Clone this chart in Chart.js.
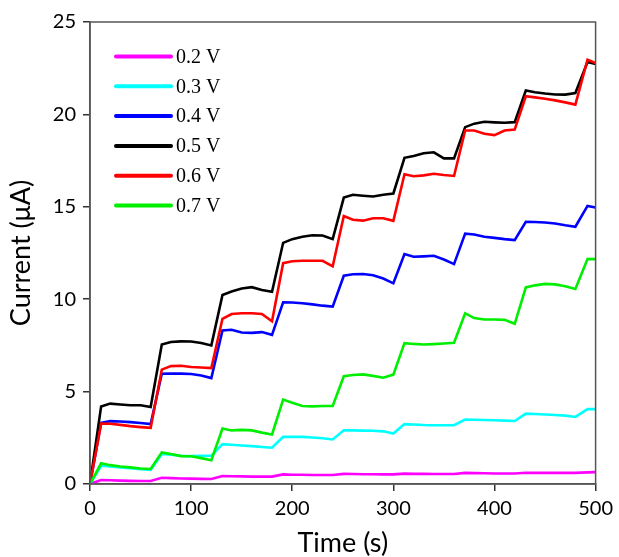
<!DOCTYPE html>
<html>
<head>
<meta charset="utf-8">
<script src="https://cdn.jsdelivr.net/npm/chart.js@4"></script>
<style>
  html, body { margin: 0; padding: 0; background: #fff; }
  #wrap { width: 619px; height: 557px; }
</style>
</head>
<body>
<div id="wrap"><canvas id="chart" width="619" height="557"></canvas></div>
<script>
// time points (s)
const times = [0, 11, 20, 30, 40, 50, 60, 71, 80, 90, 100, 110, 120, 131, 140, 150, 160, 170, 180,
  191, 200, 210, 220, 230, 240, 251, 260, 270, 280, 290, 300, 311, 320, 330, 340, 350, 360,
  371, 380, 390, 400, 410, 420, 431, 440, 450, 460, 470, 480, 492, 500];

// current (uA) per applied voltage
const v02 = [0, 0.22, 0.2, 0.18, 0.17, 0.16, 0.16, 0.34, 0.32, 0.3, 0.29, 0.28, 0.27, 0.43, 0.42, 0.41, 0.4, 0.4, 0.4,
  0.52, 0.5, 0.5, 0.49, 0.49, 0.49, 0.55, 0.54, 0.53, 0.53, 0.52, 0.52, 0.56, 0.55, 0.55, 0.54, 0.54, 0.54,
  0.6, 0.59, 0.58, 0.57, 0.57, 0.57, 0.61, 0.6, 0.6, 0.6, 0.6, 0.6, 0.63, 0.64];
const v03 = [0, 0.99, 0.95, 0.9, 0.85, 0.8, 0.76, 1.62, 1.58, 1.52, 1.51, 1.52, 1.53, 2.16, 2.12, 2.08, 2.05, 2.0, 1.96,
  2.55, 2.56, 2.55, 2.52, 2.48, 2.41, 2.91, 2.9, 2.89, 2.88, 2.85, 2.73, 3.24, 3.22, 3.19, 3.18, 3.18, 3.18,
  3.49, 3.48, 3.46, 3.45, 3.43, 3.41, 3.81, 3.79, 3.76, 3.73, 3.7, 3.63, 4.05, 4.05];
const v04 = [0, 3.31, 3.4, 3.38, 3.35, 3.3, 3.24, 5.97, 5.98, 5.97, 5.95, 5.87, 5.73, 8.31, 8.35, 8.2, 8.18, 8.22, 8.07,
  9.83, 9.82, 9.78, 9.72, 9.65, 9.6, 11.27, 11.35, 11.36, 11.3, 11.12, 10.86, 12.44, 12.3, 12.32, 12.35, 12.15, 11.9,
  13.55, 13.5, 13.38, 13.32, 13.25, 13.2, 14.19, 14.18, 14.15, 14.1, 14.0, 13.92, 15.05, 14.96];
const v05 = [0, 4.2, 4.35, 4.3, 4.26, 4.26, 4.17, 7.55, 7.68, 7.72, 7.71, 7.63, 7.5, 10.23, 10.42, 10.58, 10.65, 10.5, 10.4,
  13.05, 13.25, 13.38, 13.46, 13.45, 13.25, 15.5, 15.65, 15.6, 15.56, 15.65, 15.72, 17.65, 17.75, 17.9, 17.95, 17.62, 17.62,
  19.31, 19.5, 19.6, 19.57, 19.55, 19.58, 21.29, 21.2, 21.13, 21.08, 21.07, 21.16, 22.83, 22.73];
const v06 = [0, 3.27, 3.26, 3.2, 3.13, 3.08, 3.04, 6.19, 6.38, 6.4, 6.33, 6.3, 6.27, 8.94, 9.2, 9.24, 9.24, 9.2, 8.81,
  11.95, 12.05, 12.08, 12.08, 12.08, 11.78, 14.5, 14.3, 14.25, 14.38, 14.38, 14.24, 16.76, 16.65, 16.7, 16.79, 16.72, 16.67,
  19.13, 19.13, 18.95, 18.88, 19.13, 19.18, 20.98, 20.92, 20.85, 20.76, 20.65, 20.53, 22.96, 22.78];
const v07 = [0, 1.12, 1.02, 0.95, 0.9, 0.84, 0.81, 1.71, 1.62, 1.51, 1.5, 1.4, 1.29, 3.0, 2.9, 2.93, 2.9, 2.78, 2.68,
  4.57, 4.4, 4.22, 4.2, 4.22, 4.22, 5.83, 5.9, 5.93, 5.85, 5.75, 5.92, 7.62, 7.58, 7.55, 7.57, 7.6, 7.64,
  9.24, 8.98, 8.9, 8.9, 8.88, 8.67, 10.64, 10.75, 10.83, 10.8, 10.7, 10.55, 12.17, 12.17];

const seriesLabels = ["0.2 V", "0.3 V", "0.4 V", "0.5 V", "0.6 V", "0.7 V"];
const xTicks = [0, 100, 200, 300, 400, 500];
const yTicks = [0, 5, 10, 15, 20, 25];

const sansFont = "Lato, 'Open Sans', sans-serif";

function pts(vals) {
  return times.map((t, i) => ({ x: t, y: vals[i] }));
}

function line(label, vals, color, order) {
  return {
    label: label,
    data: pts(vals),
    borderColor: color,
    backgroundColor: color,
    borderWidth: 2.6,
    pointRadius: 0,
    tension: 0,
    order: order
  };
}

// frame round the plot + legend inside it
const framePlugin = {
  id: "frame",
  afterDatasetsDraw(chart) {
    const ctx = chart.ctx;
    const a = chart.chartArea;
    ctx.save();
    ctx.strokeStyle = "#555";
    ctx.lineWidth = 1.5;
    ctx.strokeRect(a.left, a.top, a.right - a.left, a.bottom - a.top);

    // legend
    const sets = chart.data.datasets;
    ctx.font = "20px 'Liberation Serif', 'Times New Roman', serif";
    ctx.textBaseline = "middle";
    ctx.textAlign = "left";
    sets.forEach((ds, i) => {
      const y = 56.5 + i * 29.8;
      ctx.strokeStyle = ds.borderColor;
      ctx.lineWidth = 4;
      ctx.lineCap = "round";
      ctx.beginPath();
      ctx.moveTo(116, y);
      ctx.lineTo(171, y);
      ctx.stroke();
      ctx.fillStyle = "#000";
      ctx.fillText(ds.label, 176, y + 1);
    });
    ctx.restore();
  }
};

new Chart(document.getElementById("chart"), {
  type: "line",
  data: {
    datasets: [
      line(seriesLabels[0], v02, "#ff00ff", 5),
      line(seriesLabels[1], v03, "#00ffff", 4),
      line(seriesLabels[2], v04, "#0000ff", 3),
      line(seriesLabels[3], v05, "#000000", 2),
      line(seriesLabels[4], v06, "#ff0000", 1),
      line(seriesLabels[5], v07, "#00ee00", 0)
    ]
  },
  options: {
    responsive: false,
    animation: false,
    layout: { padding: { top: 22, right: 19, left: 0, bottom: 0 } },
    plugins: {
      legend: { display: false },
      tooltip: { enabled: false }
    },
    scales: {
      x: {
        type: "linear",
        min: 0,
        max: 500,
        afterBuildTicks: (s) => { s.ticks = xTicks.map(v => ({ value: v })); },
        afterFit: (s) => { s.height = 73; },
        grid: { drawOnChartArea: false, tickLength: 7, color: "#333", lineWidth: 1.5 },
        border: { color: "#555", width: 1.5 },
        ticks: { color: "#000", padding: 6, font: { family: sansFont, size: 20 }, maxRotation: 0 },
        title: { display: true, text: "Time (s)", color: "#000", padding: { top: 0, bottom: 0 }, font: { family: sansFont, size: 27, lineHeight: 1 } }
      },
      y: {
        min: 0,
        max: 25,
        afterBuildTicks: (s) => { s.ticks = yTicks.map(v => ({ value: v })); },
        afterFit: (s) => { s.width = 90; },
        grid: { drawOnChartArea: false, tickLength: 7, color: "#333", lineWidth: 1.5 },
        border: { color: "#555", width: 1.5 },
        ticks: { color: "#000", padding: 7, font: { family: sansFont, size: 20 } },
        title: { display: true, text: "Current (\u03bcA)", color: "#000", padding: { top: 8, bottom: 0 }, font: { family: sansFont, size: 27, lineHeight: 1 } }
      }
    }
  },
  plugins: [framePlugin]
});
</script>
</body>
</html>
